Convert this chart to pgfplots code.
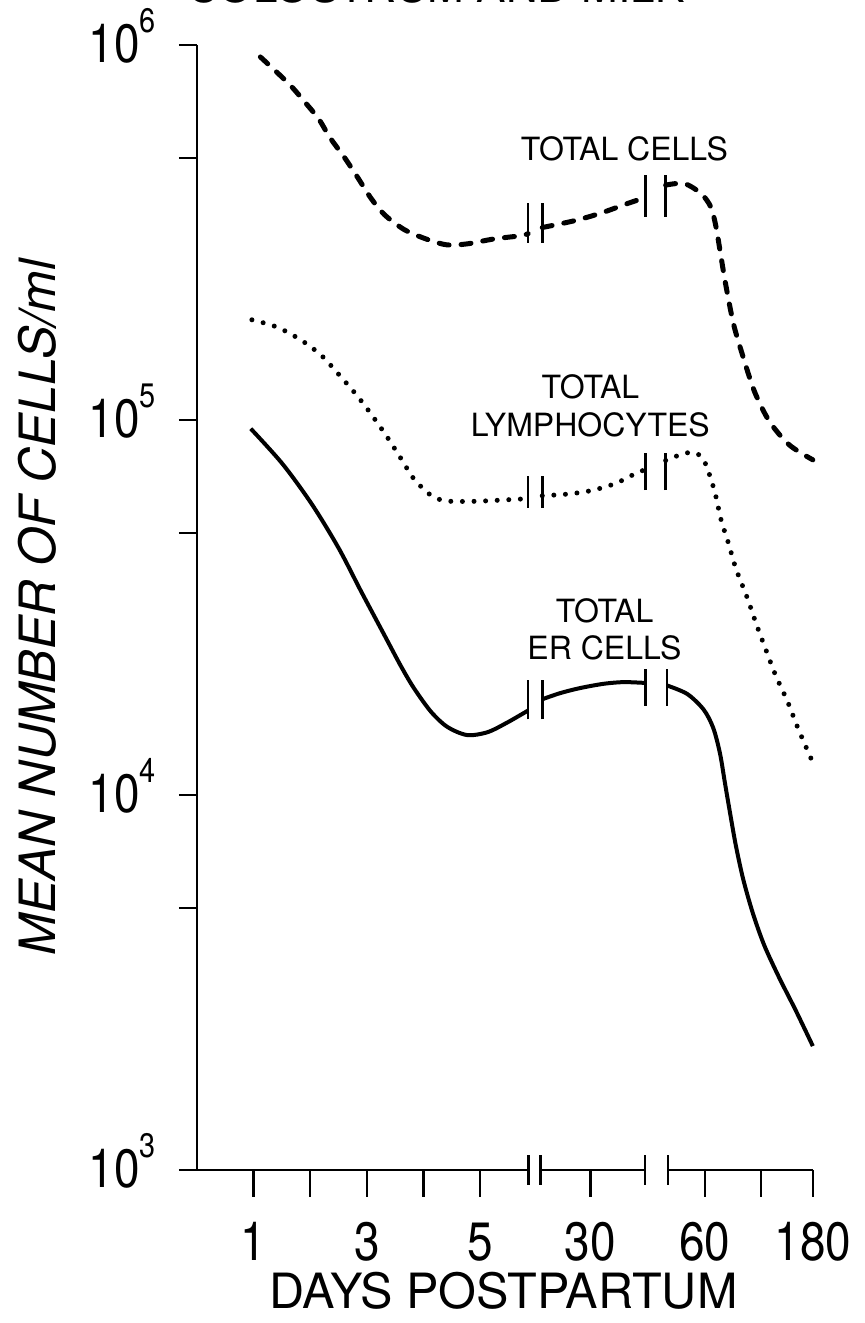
\documentclass[border=0pt]{standalone}
\usepackage{fontspec}
\setmainfont{TeX Gyre Heros}
\usepackage{pgfplots}
\pgfplotsset{compat=1.18}
\newcommand{\tp}[1]{10\raisebox{0.55em}{\fontsize{17}{17}\selectfont #1}}
\begin{document}
\begin{tikzpicture}
\begin{axis}[
  at={(0,0)}, anchor=south west,
  scale only axis, width=309.9pt, height=562.5pt,
  xmin=0, xmax=10.95, ymode=log, ymin=1000, ymax=1e6,
  axis lines*=left,
  x axis line style={draw=none},
  y axis line style={line width=1.4pt},
  tick align=outside,
  major tick length=9pt,
  ytick style={line width=1.2pt, black},
  xtick style={draw=none},
  xtick={1,2,3,4,5,6.95,8.97,9.96,10.88},
  xticklabels={1,,3,,5,30,60,,180},
  ytick={1000,10000,100000,1000000},
  yticklabels={\tp{3},\tp{4},\tp{5},\tp{6}},
  extra y ticks={5000,50000,500000}, extra y tick labels={},
  extra y tick style={tick style={line width=1.2pt, black}},
  yminorticks=false,
  xticklabel style={font=\fontsize{27}{27}\selectfont, xscale=0.85, anchor=base, yshift=-36.5pt},
  yticklabel style={font=\fontsize{27}{27}\selectfont, xscale=0.85, anchor=base east, yshift=-8.75pt, xshift=-10pt},
  xlabel={DAYS POSTPARTUM},
  xlabel style={at={(axis description cs:0.4945,-0.1227)}, anchor=base, font=\fontsize{24.3}{24.3}\selectfont},
  ylabel={MEAN NUMBER OF CELLS/ml},
  ylabel style={at={(axis description cs:-0.229,0.5)}, anchor=base, rotate=0, font=\itshape\fontsize{25}{25}\selectfont},
  clip=false,
]
% broken x axis
\addplot[black, line width=1.2pt] coordinates {(0,1000)(5.86,1000)};
\addplot[black, line width=1.2pt] coordinates {(5.86,912)(5.86,1096)};
\addplot[black, line width=1.2pt] coordinates {(6.07,912)(6.07,1096)};
\addplot[black, line width=1.2pt] coordinates {(6.07,1000)(7.91,1000)};
\addplot[black, line width=1.2pt] coordinates {(7.91,912)(7.91,1096)};
\addplot[black, line width=1.2pt] coordinates {(8.32,912)(8.32,1096)};
\addplot[black, line width=1.2pt] coordinates {(8.32,1000)(10.88,1000)};
% x ticks
\addplot[black, line width=1.2pt] coordinates {(1,1000)(1,847)};
\addplot[black, line width=1.2pt] coordinates {(2,1000)(2,847)};
\addplot[black, line width=1.2pt] coordinates {(3,1000)(3,847)};
\addplot[black, line width=1.2pt] coordinates {(4,1000)(4,847)};
\addplot[black, line width=1.2pt] coordinates {(5,1000)(5,847)};
\addplot[black, line width=1.2pt] coordinates {(6.95,1000)(6.95,847)};
\addplot[black, line width=1.2pt] coordinates {(8.97,1000)(8.97,847)};
\addplot[black, line width=1.2pt] coordinates {(9.96,1000)(9.96,847)};
\addplot[black, line width=1.2pt] coordinates {(10.88,1000)(10.88,847)};

% TOTAL CELLS (dashed)
\addplot[black, line width=2.5pt, line cap=round, dash pattern=on 5pt off 6pt, smooth] coordinates {
(1.12,9.29e5)(1.62,7.89e5)(1.91,7.03e5)(2.15,6.35e5)(2.35,5.66e5)(2.61,5.00e5)(2.84,4.43e5)(3.07,3.91e5)(3.31,3.53e5)(3.66,3.22e5)(4.07,3.03e5)(4.42,2.93e5)(4.78,2.95e5)(5.25,3.04e5)(5.72,3.10e5)(5.85,3.14e5)};
\addplot[black, line width=2.5pt, line cap=round, dash pattern=on 5pt off 6pt, smooth] coordinates {
(6.10,3.26e5)(6.67,3.40e5)(7.13,3.56e5)(7.61,3.78e5)(7.92,3.92e5)};
\addplot[black, line width=2.5pt, line cap=round, dash pattern=on 5pt off 6pt, smooth] coordinates {
(8.28,4.23e5)(8.61,4.27e5)(8.91,4.01e5)(9.08,3.69e5)(9.17,3.27e5)(9.25,2.77e5)(9.34,2.30e5)(9.48,1.80e5)(9.65,1.47e5)(9.85,1.19e5)(10.11,9.93e4)(10.46,8.59e4)(10.88,7.83e4)};
\addplot[black, line width=1.3pt] coordinates {(5.85,2.97e5)(5.85,3.80e5)};
\addplot[black, line width=1.3pt] coordinates {(6.10,2.97e5)(6.10,3.80e5)};
\addplot[black, line width=1.3pt] coordinates {(7.92,3.48e5)(7.92,4.49e5)};
\addplot[black, line width=1.3pt] coordinates {(8.28,3.48e5)(8.28,4.49e5)};

% TOTAL LYMPHOCYTES (dotted)
\addplot[black, line width=2.5pt, line cap=round, dash pattern=on 0pt off 5.8pt, smooth] coordinates {
(0.97,1.85e5)(1.41,1.77e5)(1.82,1.64e5)(2.19,1.49e5)(2.51,1.32e5)(2.81,1.17e5)(3.05,1.05e5)(3.34,9.10e4)(3.60,7.91e4)(3.83,6.97e4)(4.09,6.37e4)(4.27,6.15e4)(4.48,6.07e4)(4.92,6.07e4)(5.33,6.11e4)(5.85,6.17e4)};
\addplot[black, line width=2.5pt, line cap=round, dash pattern=on 0pt off 5.8pt, smooth] coordinates {
(6.10,6.28e4)(6.57,6.35e4)(6.98,6.49e4)(7.40,6.78e4)(7.81,7.28e4)(7.92,7.33e4)};
\addplot[black, line width=2.5pt, line cap=round, dash pattern=on 0pt off 5.8pt, smooth] coordinates {
(8.28,7.80e4)(8.55,8.09e4)(8.76,8.20e4)(8.92,7.96e4)(9.02,7.40e4)(9.15,6.41e4)(9.26,5.41e4)(9.39,4.69e4)(9.52,4.02e4)(9.72,3.36e4)(9.88,2.86e4)(10.05,2.44e4)(10.22,2.09e4)(10.43,1.78e4)(10.60,1.53e4)(10.79,1.31e4)(10.88,1.22e4)};
\addplot[black, line width=1.3pt] coordinates {(5.85,5.83e4)(5.85,7.11e4)};
\addplot[black, line width=1.3pt] coordinates {(6.10,5.83e4)(6.10,7.11e4)};
\addplot[black, line width=1.3pt] coordinates {(7.92,6.50e4)(7.92,8.15e4)};
\addplot[black, line width=1.3pt] coordinates {(8.28,6.50e4)(8.28,8.15e4)};

% TOTAL ER CELLS (solid)
\addplot[black, line width=2pt, smooth] coordinates {
(0.95,9.48e4)(1.51,7.64e4)(2.03,5.96e4)(2.50,4.56e4)(2.90,3.49e4)(3.31,2.67e4)(3.60,2.21e4)(3.83,1.93e4)(4.13,1.67e4)(4.42,1.52e4)(4.77,1.445e4)(5.13,1.47e4)(5.48,1.56e4)(5.85,1.68e4)};
\addplot[black, line width=2pt, smooth] coordinates {
(6.10,1.80e4)(6.42,1.87e4)(6.78,1.93e4)(7.19,1.98e4)(7.54,2.00e4)(7.92,1.99e4)};
\addplot[black, line width=2pt, smooth] coordinates {
(8.30,1.96e4)(8.66,1.86e4)(8.95,1.69e4)(9.12,1.51e4)(9.24,1.29e4)(9.33,1.07e4)(9.42,8.91e3)(9.52,7.33e3)(9.65,5.96e3)(9.82,4.84e3)(10.02,3.98e3)(10.28,3.27e3)(10.58,2.66e3)(10.88,2.14e3)};
\addplot[black, line width=1.3pt] coordinates {(5.85,1.59e4)(5.85,2.03e4)};
\addplot[black, line width=1.3pt] coordinates {(6.10,1.59e4)(6.10,2.03e4)};
\addplot[black, line width=1.3pt] coordinates {(7.92,1.73e4)(7.92,2.17e4)};
\addplot[black, line width=1.3pt] coordinates {(8.30,1.73e4)(8.30,2.17e4)};

\node[font=\fontsize{16}{18.75}\selectfont, align=center] at (axis cs:7.55,5.28e5) {TOTAL CELLS};
\node[font=\fontsize{16}{18.75}\selectfont, align=center] at (axis cs:6.95,1.09e5) {TOTAL\\LYMPHOCYTES};
\node[font=\fontsize{16}{18.75}\selectfont, align=center] at (axis cs:7.20,2.765e4) {TOTAL\\ER CELLS};
\end{axis}
\node[anchor=base, font=\fontsize{22}{22}\selectfont] at (119.5pt,583.5pt) {COLOSTRUM AND MILK};
\pgfresetboundingbox
\path[use as bounding box] (-98.5pt,-76.5pt) rectangle (333.5pt,585pt);
\end{tikzpicture}
\end{document}
